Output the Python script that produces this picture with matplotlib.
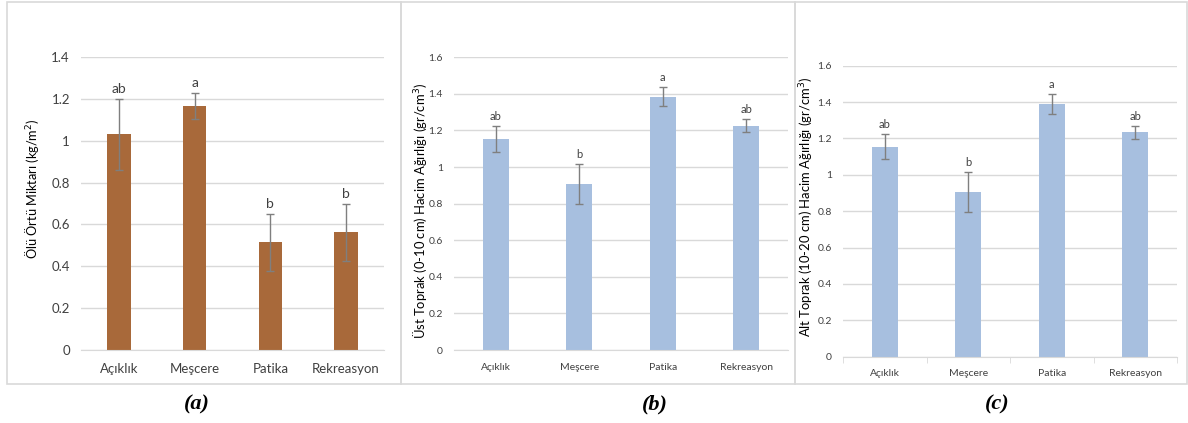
import matplotlib.pyplot as plt
from matplotlib.patches import Rectangle

# data
categories = ['Açıklık', 'Meşcere', 'Patika', 'Rekreasyon']

litter = [1.03, 1.165, 0.514, 0.562]
litter_err = [0.168, 0.062, 0.135, 0.135]
litter_grp = ['ab', 'a', 'b', 'b']

top_soil = [1.152, 0.907, 1.385, 1.226]
top_err = [0.07, 0.11, 0.053, 0.035]
top_grp = ['ab', 'b', 'a', 'ab']

sub_soil = [1.155, 0.906, 1.389, 1.234]
sub_err = [0.068, 0.11, 0.053, 0.036]
sub_grp = ['ab', 'b', 'a', 'ab']

brown = '#A8693A'
blue = '#A7BFDF'
grid = '#D9D9D9'
txt = '#404040'

plt.rcParams['font.family'] = ['Lato', 'DejaVu Sans']

fig = plt.figure(figsize=(11.88, 4.23), dpi=100)

# panel frames (figure pixels -> fraction)
W, H = 1188, 423
for x0, x1 in [(7, 401), (401, 795), (795, 1187)]:
    fig.patches.append(Rectangle((x0 / W, 1 - 384 / H), (x1 - x0) / W, 382 / H,
                                 transform=fig.transFigure, fill=False,
                                 edgecolor='#D9D9D9', lw=1.2))


def panel(rect, vals, errs, grps, color, ymax, ylabel, fs, lab_fs, ylx, yly,
          letter, lx, ticks_x=False):
    ax = fig.add_axes(rect)
    x = range(len(categories))
    ax.bar(x, vals, width=0.31, color=color, zorder=2)
    ax.errorbar(x, vals, yerr=errs, fmt='none', ecolor='#7F7F7F', elinewidth=1,
                capsize=3, capthick=1, zorder=3)
    for i, g in enumerate(grps):
        ax.annotate(g, (i, vals[i] + errs[i]), xytext=(0, 3), textcoords='offset points',
                    ha='center', va='bottom', fontsize=fs + 0.5, color=txt)
    ax.set_xlim(-0.5, 3.5)
    ax.set_ylim(0, ymax)
    ax.set_yticks([round(0.2 * k, 1) for k in range(int(round(ymax / 0.2)) + 1)])
    ax.set_yticklabels([f'{t:g}' for t in ax.get_yticks()])
    ax.yaxis.grid(True, color=grid, lw=1, zorder=0)
    for s in ['top', 'right', 'left']:
        ax.spines[s].set_visible(False)
    ax.spines['bottom'].set_color(grid)
    ax.tick_params(axis='y', length=0, labelsize=fs, labelcolor=txt, pad=8)
    ax.set_xticks(list(x))
    ax.set_xticklabels(categories)
    ax.tick_params(axis='x', length=0, labelsize=fs, labelcolor=txt, pad=9)
    if ticks_x:
        ax.set_xticks([-0.5, 0.5, 1.5, 2.5, 3.5], minor=True)
        ax.tick_params(axis='x', which='minor', length=4, color=grid)
    fig.text(ylx / W, 1 - yly / H, ylabel, rotation=90, ha='center', va='center',
             fontsize=lab_fs, color='black')
    fig.text(lx / W, 1 - 404 / H, letter, ha='center', va='center', fontsize=16,
             family='Liberation Serif', weight='bold', style='italic')
    return ax


panel([81 / W, 1 - 350 / H, 303 / W, 293 / H], litter, litter_err, litter_grp, brown, 1.4,
      'Ölü Örtü Miktarı (kg/m$^2$)', 9.5, 9.2, 32, 189, '(a)', 197)
panel([454 / W, 1 - 350 / H, 334 / W, 292.7 / H], top_soil, top_err, top_grp, blue, 1.6,
      'Üst Toprak (0-10 cm) Hacim Ağırlığı (gr/cm$^3$)', 7.5, 9.4, 420, 211, '(b)', 655)
panel([843 / W, 1 - 356.7 / H, 334 / W, 291 / H], sub_soil, sub_err, sub_grp, blue, 1.6,
      'Alt Toprak (10-20 cm) Hacim Ağırlığı (gr/cm$^3$)', 7.5, 9.4, 807, 207, '(c)', 997,
      ticks_x=True)

plt.savefig('out.png', dpi=100)
